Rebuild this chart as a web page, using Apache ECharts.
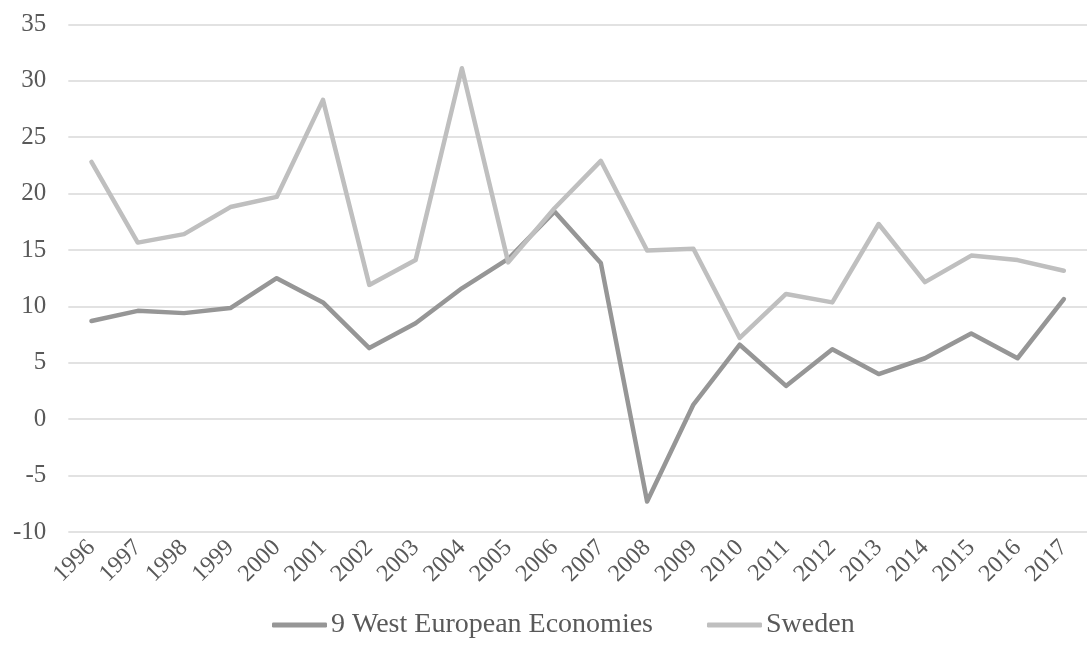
<!DOCTYPE html>
<html>
<head>
<meta charset="utf-8">
<title>Growth: 9 West European Economies vs Sweden</title>
<script src="https://cdn.jsdelivr.net/npm/echarts@6/dist/echarts.min.js"></script>
<style>
  html, body { margin: 0; padding: 0; background: #ffffff; }
  #chart { width: 1087px; height: 663px; }
</style>
</head>
<body>
<div id="chart"></div>
<script>
// Years on the category axis
const years = ['1996','1997','1998','1999','2000','2001','2002','2003','2004','2005','2006',
               '2007','2008','2009','2010','2011','2012','2013','2014','2015','2016','2017'];

// Series values
const westEurope = [8.7, 9.6, 9.4, 9.85, 12.5, 10.35, 6.3, 8.5, 11.6, 14.2, 18.4,
                    13.85, -7.3, 1.3, 6.6, 2.95, 6.2, 4.0, 5.4, 7.6, 5.4, 10.65];
const sweden = [22.8, 15.65, 16.4, 18.8, 19.7, 28.3, 11.9, 14.1, 31.1, 13.9, 18.7,
                22.9, 14.95, 15.1, 7.2, 11.1, 10.35, 17.3, 12.15, 14.5, 14.1, 13.15];

// Series names shown in the legend
const seriesNames = ['9 West European Economies', 'Sweden'];

// Value axis range and step
const yMin = -10;
const yMax = 35;
const yStep = 5;

const fontFamily = "'Liberation Serif', 'Times New Roman', serif";
const textColor = '#595959';

const chart = echarts.init(document.getElementById('chart'), null, { renderer: 'canvas' });

const lineStyleFor = (color) => ({
  color: color,
  width: 4.5,
  cap: 'round',
  join: 'round'
});

chart.setOption({
  animation: false,
  backgroundColor: '#ffffff',
  textStyle: { fontFamily: fontFamily },
  grid: {
    left: 68.3,
    right: -10.7,
    top: 24.3,
    bottom: 131,
    containLabel: false
  },
  legend: {
    data: seriesNames,
    left: 267,
    top: 606,
    icon: 'roundRect',
    itemWidth: 55,
    itemHeight: 5,
    itemGap: 54,
    textStyle: {
      fontFamily: fontFamily,
      fontSize: 28,
      color: textColor,
      padding: [0, 0, 0, -1]
    }
  },
  xAxis: {
    type: 'category',
    data: years,
    boundaryGap: true,
    axisLine: { show: false },
    axisTick: { show: false },
    splitLine: { show: false },
    axisLabel: {
      interval: 0,
      rotate: 45,
      margin: 12,
      fontFamily: fontFamily,
      fontSize: 24,
      color: textColor
    }
  },
  yAxis: {
    type: 'value',
    min: yMin,
    max: yMax,
    interval: yStep,
    axisLine: { show: false },
    axisTick: { show: false },
    splitLine: { lineStyle: { color: '#d9d9d9', width: 1.5 } },
    axisLabel: {
      margin: 22,
      fontFamily: fontFamily,
      fontSize: 25,
      color: textColor
    }
  },
  series: [
    {
      name: seriesNames[0],
      type: 'line',
      data: westEurope,
      symbol: 'none',
      color: '#969696',
      lineStyle: lineStyleFor('#969696')
    },
    {
      name: seriesNames[1],
      type: 'line',
      data: sweden,
      symbol: 'none',
      color: '#bfbfbf',
      lineStyle: lineStyleFor('#bfbfbf')
    }
  ]
});
</script>
</body>
</html>
